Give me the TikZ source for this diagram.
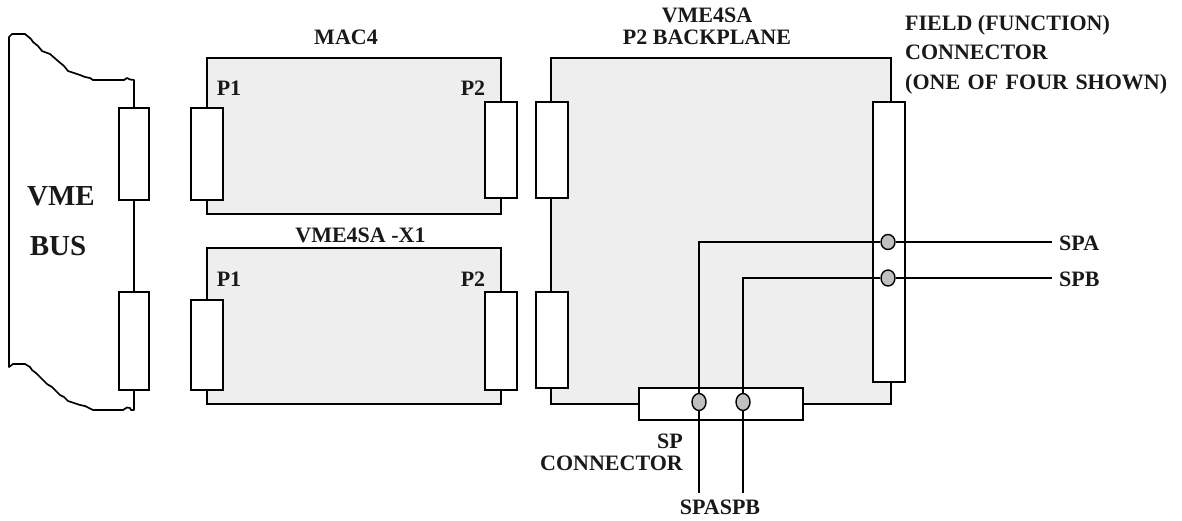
\documentclass[tikz,border=0pt]{standalone}
\usepackage{fontspec}
\setmainfont{Liberation Serif}
\usetikzlibrary{positioning,shapes.geometric}
\definecolor{board}{HTML}{EEEEEE}
\definecolor{pin}{HTML}{C0C0C0}
\newcommand{\widewords}{\spaceskip=.34em\relax}
\tikzset{
  wire/.style={line width=1.7pt,black},
  card/.style={draw,line width=1.7pt,fill=board,inner sep=0pt},
  conn/.style={draw,line width=1.7pt,fill=white,inner sep=0pt},
  pinmark/.style={draw,line width=1.4pt,fill=pin,ellipse,inner sep=0pt,minimum width=14pt,minimum height=16pt},
  labeltext/.style={font=\bfseries\fontsize{22}{26}\selectfont,inner sep=0pt,text=black!90},
  bigtext/.style={font=\bfseries\fontsize{29}{34}\selectfont,inner sep=0pt,text=black!90}
}
\begin{document}
\begin{tikzpicture}[x=1pt,y=-1pt]
\useasboundingbox (0,0) rectangle (1182,520);
% boards
\node[card,minimum width=294pt,minimum height=156pt] (mac) at (354,136) {};
\node[card,minimum width=294pt,minimum height=156pt] (xone) at (354,326) {};
\node[card,minimum width=340pt,minimum height=346pt] (plane) at (721,231) {};
% connectors
\node[conn,minimum width=30pt,minimum height=92pt] (vmea) at (134,154) {};
\node[conn,minimum width=30pt,minimum height=98pt] (vmeb) at (134,341) {};
\node[conn,minimum width=32pt,minimum height=92pt] (macpa) at (207,154) {};
\node[conn,minimum width=32pt,minimum height=96pt] (macpb) at (501,150) {};
\node[conn,minimum width=32pt,minimum height=90pt] (xonepa) at (207,345) {};
\node[conn,minimum width=32pt,minimum height=98pt] (xonepb) at (501,341) {};
\node[conn,minimum width=32pt,minimum height=96pt] (planea) at (552,150) {};
\node[conn,minimum width=32pt,minimum height=96pt] (planeb) at (552,340) {};
\node[conn,minimum width=32pt,minimum height=280pt] (field) at (889,242) {};
\node[conn,minimum width=164pt,minimum height=32pt] (spconn) at (721,404) {};
% pins
\node[pinmark,minimum height=15pt] (fa) at (888,242) {};
\node[pinmark] (fb) at (888,278) {};
\node[pinmark,minimum height=17pt] (sa) at (699,402) {};
\node[pinmark,minimum height=17pt] (sb) at (743,402) {};
% wire ends
\coordinate (endfa) at (1052,242);
\coordinate (endfb) at (1052,278);
\coordinate (endsa) at (699,493);
\coordinate (endsb) at (743,493);
\coordinate (topedge) at (134,80);
\coordinate (botedge) at (134,410);
\coordinate (topleft) at (9,37);
\coordinate (botleft) at (9,367);
% bus outline
\draw[wire] (vmea.south) -- (vmeb.north);
\draw[wire,line join=round] (vmea.north) -- (topedge) -- (130,79.5) -- (127,78) -- (124,80) -- (93,80) -- (90,78) -- (85,77) -- (80,75)
  -- (68,71) -- (64,66) -- (58,61) -- (50,54) -- (42,51) -- (38,46) -- (33,42) -- (31,39) -- (25,34) -- (12,34) -- (topleft) -- (botleft)
  -- (13,364) -- (25,364) -- (30,367) -- (32,370) -- (36,373) -- (47,384) -- (52,387) -- (60,395) -- (64,397) -- (68,401) -- (80,405) -- (85,406) -- (93,410)
  -- (123,410) -- (127,407.5) -- (130,408) -- (131,410) -- (botedge) -- (vmeb.south);
% signals
\draw[wire] (fa.west) -| (sa.north);
\draw[wire] (fb.west) -| (sb.north);
\draw[wire] (fa.east) -- (endfa);
\draw[wire] (fb.east) -- (endfb);
\draw[wire] (sa.south) -- (endsa);
\draw[wire] (sb.south) -- (endsb);
% labels
\node[labeltext] (maclabel) at (346,37) {MAC4};
\node[labeltext] (xonelabel) at (360.5,235) {VME4SA -X1};
\node[labeltext] (macpone) at (229,88) {P1};
\node[labeltext] (macptwo) at (473,88) {P2};
\node[labeltext] (xonepone) at (229,279) {P1};
\node[labeltext] (xoneptwo) at (473,279) {P2};
\node[labeltext] (planelabel1) at (707,15) {VME4SA};
\node[labeltext] (planelabel2) at (707,37) {P2 BACKPLANE};
\node[labeltext,anchor=west] (fieldlabel1) at (905,25) {FIELD (FUNCTION)};
\node[labeltext,anchor=west] (fieldlabel2) at (905,52) {CONNECTOR};
\node[labeltext,anchor=west] (fieldlabel3) at (905,84) {\widewords (ONE OF FOUR SHOWN)};
\node[labeltext,anchor=west] (spa) at (1059,243) {SPA};
\node[labeltext,anchor=west] (spb) at (1059,279) {SPB};
\node[labeltext,anchor=east] (splabel1) at (683,441) {SP};
\node[labeltext,anchor=east] (splabel2) at (683,463) {CONNECTOR};
\node[labeltext] (spaspb) at (720,507) {SPASPB};
\node[bigtext] (vme) at (61,196) {VME};
\node[bigtext] (bus) at (58,246) {BUS};
\end{tikzpicture}
\end{document}
